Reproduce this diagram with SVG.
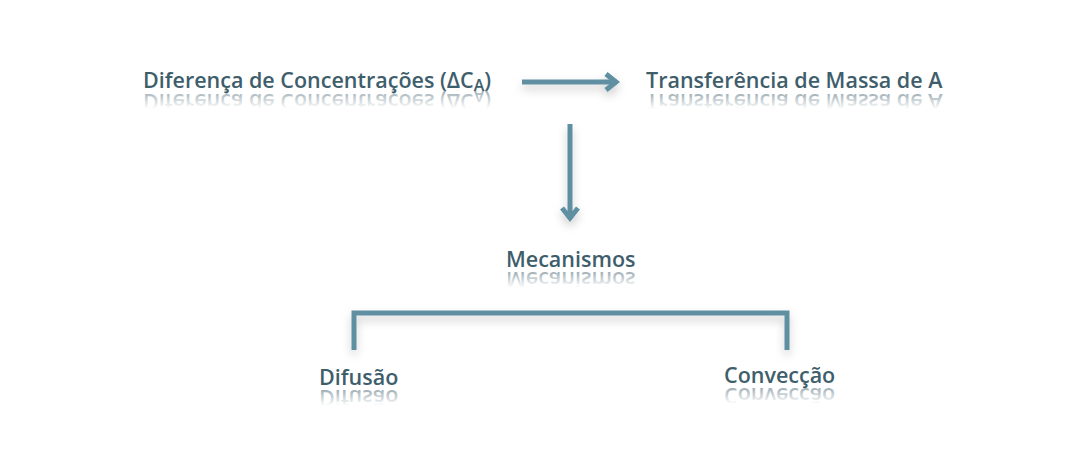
<svg xmlns="http://www.w3.org/2000/svg" width="1080" height="452" viewBox="0 0 1080 452">
<style>
.t{font-family:"Open Sans","Liberation Sans",sans-serif;font-weight:600;font-size:21.5px;fill:#3f5e6c}
.r{font-family:"Open Sans","Liberation Sans",sans-serif;font-weight:600;font-size:21.5px;fill:url(#fade)}
.c{fill:none;stroke:#5f8fa1;stroke-width:5}
</style>
<defs>
<linearGradient id="fade" x1="0" y1="0" x2="0" y2="1">
<stop offset="0.25" stop-color="#3f5e6c" stop-opacity="0"/>
<stop offset="0.8" stop-color="#3f5e6c" stop-opacity="0.5"/>
</linearGradient>
<filter id="sh" x="-20%" y="-50%" width="140%" height="250%">
<feDropShadow dx="0" dy="5" stdDeviation="5" flood-color="#000" flood-opacity="0.2"/>
</filter>
<marker id="ah" viewBox="0 0 20 20" markerWidth="20" markerHeight="20" refX="15" refY="10" markerUnits="userSpaceOnUse" orient="auto">
<path d="M4,2 L14,10 L4,18" fill="none" stroke="#5f8fa1" stroke-width="5"/>
</marker>
</defs>
<rect width="1080" height="452" fill="#fff"/>
<g id="connectors" filter="url(#sh)">
<path class="c" d="M522,82 H617" marker-end="url(#ah)"/>
<path class="c" d="M570,124 V219" marker-end="url(#ah)"/>
<path class="c" d="M354,350 V313 H787 V350"/>
</g>
<g id="n1">
<text class="t" x="143" y="87.5">Diferença de Concentrações (ΔC<tspan font-size="16" dy="3.5">A</tspan><tspan dy="-3.5">)</tspan></text>
<text class="r" x="143" y="87.5" transform="translate(0,181) scale(1,-1)">Diferença de Concentrações (ΔC<tspan font-size="16" dy="3.5">A</tspan><tspan dy="-3.5">)</tspan></text>
</g>
<g id="n2">
<text class="t" x="646" y="87.5">Transferência de Massa de A</text>
<text class="r" x="646" y="87.5" transform="translate(0,181) scale(1,-1)">Transferência de Massa de A</text>
</g>
<g id="n3">
<text class="t" x="506" y="267">Mecanismos</text>
<text class="r" x="506" y="267" transform="translate(0,539) scale(1,-1)">Mecanismos</text>
</g>
<g id="n4">
<text class="t" x="319" y="385">Difusão</text>
<text class="r" x="319" y="385" transform="translate(0,775) scale(1,-1)">Difusão</text>
</g>
<g id="n5">
<text class="t" x="724" y="383">Convecção</text>
<text class="r" x="724" y="383" transform="translate(0,771) scale(1,-1)">Convecção</text>
</g>
</svg>
